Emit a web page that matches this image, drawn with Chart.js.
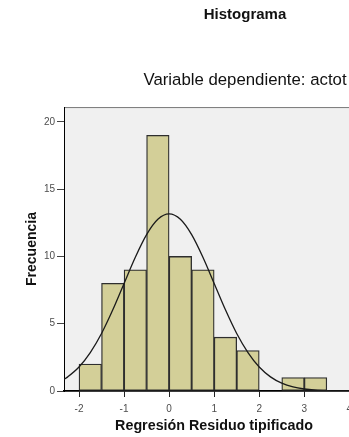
<!doctype html>
<html lang="es">
<head>
  <meta charset="utf-8">
  <title>Histograma</title>
  <style>
    html, body { margin: 0; padding: 0; background: #fff; overflow: hidden; }
  </style>
</head>
<body>
  <canvas id="hist" width="490" height="437"></canvas>
  <script src="https://cdn.jsdelivr.net/npm/chart.js"></script>
  <script>
    // residual bins (width 0.5) and their counts
    const binCenters = [-1.75, -1.25, -0.75, -0.25, 0.25, 0.75, 1.25, 1.75, 2.25, 2.75, 3.25];
    const binCounts  = [2, 8, 9, 19, 10, 9, 4, 3, 0, 1, 1];

    // normal curve over the histogram
    const curveX = [-2.33, -2.25, -2, -1.75, -1.5, -1.25, -1, -0.75, -0.5, -0.25, 0,
                    0.25, 0.5, 0.75, 1, 1.25, 1.5, 1.75, 2, 2.25, 2.5, 2.75, 3, 3.25, 3.5, 3.75, 4, 4.5];
    const curveY = [0.87, 1.05, 1.78, 2.85, 4.27, 6.03, 7.99, 9.94, 11.62, 12.76, 13.16,
                    12.76, 11.62, 9.94, 7.99, 6.03, 4.27, 2.85, 1.78, 1.05, 0.58, 0.30, 0.15, 0.07, 0.03, 0.01, 0, 0];

    const xTicks = [-2, -1, 0, 1, 2, 3, 4];
    const yTicks = [0, 5, 10, 15, 20];

    const FONT = '"Liberation Sans", Arial, sans-serif';
    Chart.defaults.font.family = FONT;

    // grey plot panel with a thin frame
    const panel = {
      id: 'panel',
      beforeDraw(chart) {
        const { ctx, chartArea: a } = chart;
        ctx.save();
        ctx.fillStyle = '#f0f0f0';
        ctx.fillRect(a.left, a.top, a.right - a.left, a.bottom - a.top);
        ctx.strokeStyle = '#7a7a7a';
        ctx.lineWidth = 1;
        ctx.strokeRect(a.left + 0.5, a.top + 0.5, a.right - a.left - 1, a.bottom - a.top);
        ctx.restore();
      }
    };

    new Chart(document.getElementById('hist'), {
      data: {
        datasets: [
          {
            type: 'line',
            data: curveX.map((x, i) => ({ x: x, y: curveY[i] })),
            borderColor: '#1a1a1a',
            borderWidth: 1.3,
            pointRadius: 0,
            cubicInterpolationMode: 'monotone',
            order: 0
          },
          {
            type: 'bar',
            data: binCenters.map((x, i) => ({ x: x, y: binCounts[i] })),
            backgroundColor: '#d3cf98',
            borderColor: '#2e2e2e',
            borderWidth: 1.3,
            borderSkipped: false,
            barPercentage: 1,
            categoryPercentage: 1,
            order: 1
          }
        ]
      },
      options: {
        responsive: false,
        animation: false,
        layout: { padding: 0 },
        plugins: {
          legend: { display: false },
          tooltip: { enabled: false },
          title: {
            display: true,
            text: 'Histograma',
            color: '#111',
            font: { size: 15, weight: 'bold', lineHeight: 1.2 },
            padding: { top: 6, bottom: 0 }
          },
          subtitle: {
            display: true,
            text: 'Variable dependiente: actot',
            color: '#111',
            font: { size: 16.8, weight: 'normal', lineHeight: 1.2 },
            padding: { top: 46, bottom: 16.9 }
          }
        },
        scales: {
          x: {
            type: 'linear',
            offset: false,
            min: -2.333,
            max: 4.325,
            afterBuildTicks: s => { s.ticks = xTicks.map(v => ({ value: v })); },
            afterFit: s => { s.height = 46; },
            grid: { offset: false, drawOnChartArea: false, drawTicks: true, tickLength: 6, color: '#222' },
            border: { display: true, color: '#000', width: 1.5 },
            ticks: { color: '#4d4d4d', font: { size: 10 }, padding: 6, maxRotation: 0 },
            title: {
              display: true,
              text: 'Regresión Residuo tipificado',
              color: '#111',
              font: { size: 14.3, weight: 'bold', lineHeight: 1.2 },
              padding: { top: 4, bottom: 2 }
            }
          },
          y: {
            type: 'linear',
            min: 0,
            max: 21.1,
            afterBuildTicks: s => { s.ticks = yTicks.map(v => ({ value: v })); },
            afterFit: s => { s.width = 64; },
            grid: { drawOnChartArea: false, drawTicks: true, tickLength: 7, color: '#444' },
            border: { display: true, color: '#000', width: 1 },
            ticks: { color: '#4d4d4d', font: { size: 10 }, padding: 2 },
            title: {
              display: true,
              text: 'Frecuencia',
              color: '#111',
              font: { size: 14, weight: 'bold', lineHeight: 1.2 },
              padding: { top: 23.6, bottom: 4 }
            }
          },
          // empty strip on the right of the plot
          side: {
            type: 'linear',
            position: 'right',
            display: true,
            grid: { display: false },
            border: { display: false },
            ticks: { display: false },
            afterFit: s => { s.width = 126; }
          }
        }
      },
      plugins: [panel]
    });
  </script>
</body>
</html>
